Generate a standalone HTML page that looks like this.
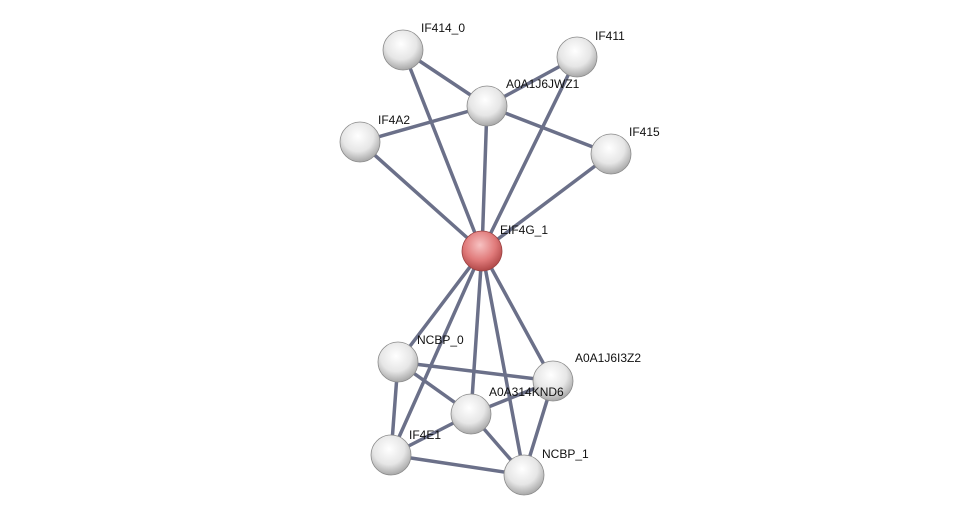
<!DOCTYPE html>
<html><head><meta charset="utf-8"><style>html,body{margin:0;padding:0;background:#fff}svg{display:block}</style></head>
<body>
<svg width="975" height="521" viewBox="0 0 975 521" xmlns="http://www.w3.org/2000/svg">
<defs>
<radialGradient id="g" cx="45%" cy="35%" r="65%">
<stop offset="0" stop-color="#ffffff"/><stop offset="0.6" stop-color="#e6e6e6"/><stop offset="1" stop-color="#a8a8a8"/>
</radialGradient>
<radialGradient id="r" cx="45%" cy="35%" r="65%">
<stop offset="0" stop-color="#f7c2c2"/><stop offset="0.6" stop-color="#e07a7a"/><stop offset="1" stop-color="#b04848"/>
</radialGradient>
</defs>
<g stroke="#6b7089" stroke-width="3.5" stroke-linecap="round">
<line x1="403" y1="50" x2="487" y2="106"/>
<line x1="403" y1="50" x2="482" y2="251"/>
<line x1="577" y1="57" x2="487" y2="106"/>
<line x1="577" y1="57" x2="482" y2="251"/>
<line x1="487" y1="106" x2="360" y2="142"/>
<line x1="487" y1="106" x2="611" y2="154"/>
<line x1="487" y1="106" x2="482" y2="251"/>
<line x1="360" y1="142" x2="482" y2="251"/>
<line x1="611" y1="154" x2="482" y2="251"/>
<line x1="482" y1="251" x2="398" y2="362"/>
<line x1="482" y1="251" x2="553" y2="381"/>
<line x1="482" y1="251" x2="471" y2="414"/>
<line x1="482" y1="251" x2="391" y2="455"/>
<line x1="482" y1="251" x2="524" y2="475"/>
<line x1="398" y1="362" x2="553" y2="381"/>
<line x1="398" y1="362" x2="471" y2="414"/>
<line x1="398" y1="362" x2="391" y2="455"/>
<line x1="471" y1="414" x2="553" y2="381"/>
<line x1="471" y1="414" x2="391" y2="455"/>
<line x1="471" y1="414" x2="524" y2="475"/>
<line x1="391" y1="455" x2="524" y2="475"/>
<line x1="553" y1="381" x2="524" y2="475"/>
</g>
<g stroke="#8a8a8a" stroke-width="0.8">
<circle cx="403" cy="50" r="20" fill="url(#g)"/>
<circle cx="577" cy="57" r="20" fill="url(#g)"/>
<circle cx="487" cy="106" r="20" fill="url(#g)"/>
<circle cx="360" cy="142" r="20" fill="url(#g)"/>
<circle cx="611" cy="154" r="20" fill="url(#g)"/>
<circle cx="482" cy="251" r="20" fill="url(#r)" stroke="#9a4040"/>
<circle cx="398" cy="362" r="20" fill="url(#g)"/>
<circle cx="553" cy="381" r="20" fill="url(#g)"/>
<circle cx="471" cy="414" r="20" fill="url(#g)"/>
<circle cx="391" cy="455" r="20" fill="url(#g)"/>
<circle cx="524" cy="475" r="20" fill="url(#g)"/>
</g>
<g font-family="Liberation Sans, sans-serif" font-size="12" fill="#111">
<text x="421" y="32">IF414_0</text>
<text x="595" y="40">IF411</text>
<text x="506" y="88">A0A1J6JWZ1</text>
<text x="378" y="124">IF4A2</text>
<text x="629" y="136">IF415</text>
<text x="500" y="234">EIF4G_1</text>
<text x="417" y="344">NCBP_0</text>
<text x="575" y="362">A0A1J6I3Z2</text>
<text x="489" y="396">A0A314KND6</text>
<text x="409" y="439">IF4E1</text>
<text x="542" y="458">NCBP_1</text>
</g>
</svg>
</body></html>
